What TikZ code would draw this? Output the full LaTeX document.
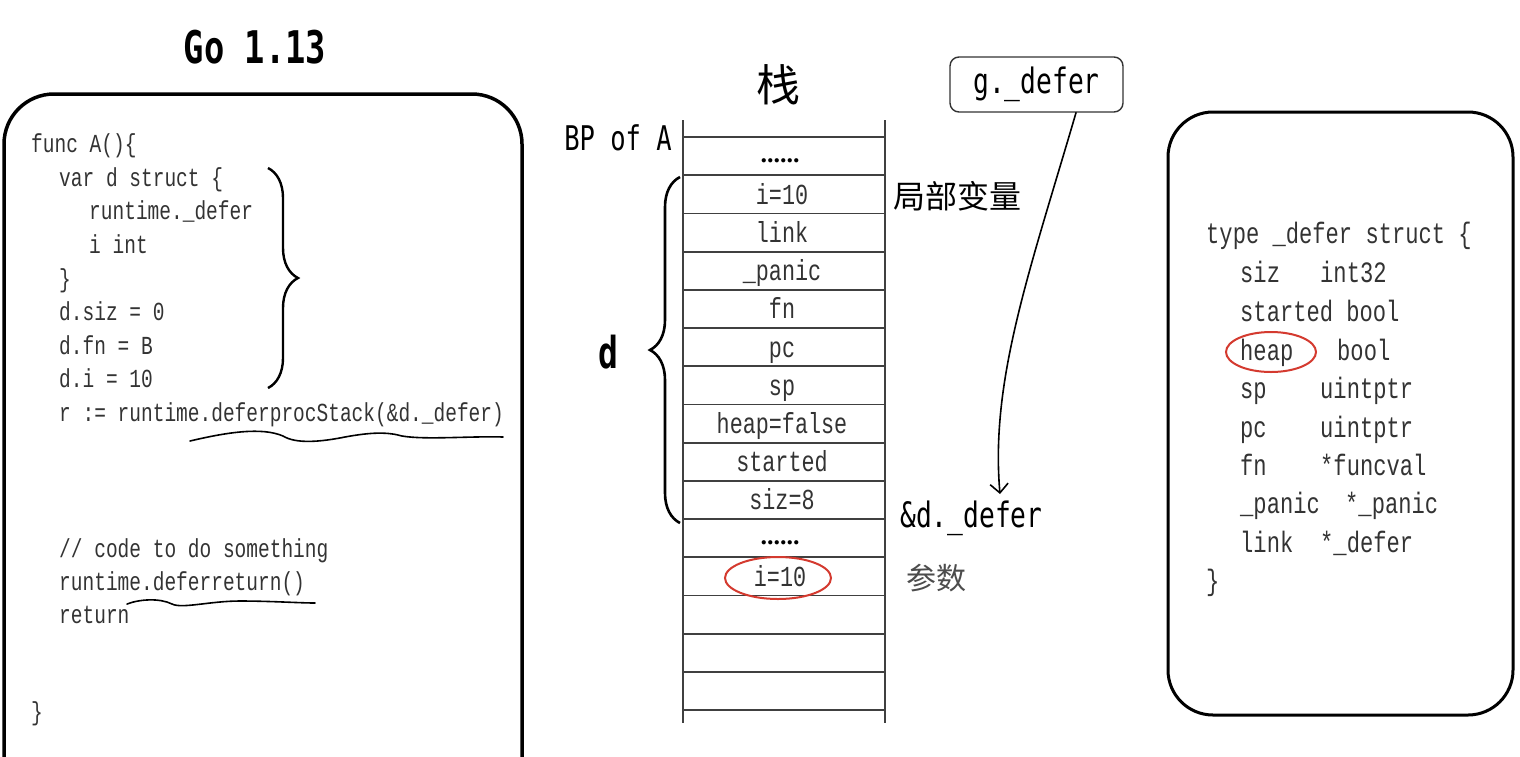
\documentclass[tikz,border=0pt]{standalone}
\usepackage{fontspec}
\setmainfont{Liberation Serif}
\newfontfamily\codefont[FakeStretch=0.75]{Liberation Mono}
\newfontfamily\handfont[FakeStretch=0.75]{DejaVu Sans Mono}
\newfontfamily\cjk{Noto Sans CJK SC}
\usetikzlibrary{decorations.pathreplacing,arrows.meta,shapes.geometric}
\definecolor{ink}{HTML}{333333}
\definecolor{circ}{HTML}{D43A2F}
\begin{document}
\begin{tikzpicture}[x=1pt,y=-1pt,
  codetxt/.style={anchor=base west,inner sep=0,text=ink,font=\codefont\fontsize{26}{30}\selectfont},
  structtxt/.style={anchor=base west,inner sep=0,text=ink,font=\codefont\fontsize{29.5}{34}\selectfont},
  cell/.style={anchor=base,inner sep=0,text=ink,font=\codefont\fontsize{29}{34}\selectfont},
  dotcell/.style={anchor=base,inner sep=0,text=black,font=\bfseries\fontsize{26}{30}\selectfont},
  handtxt/.style={inner sep=0,text=black,font=\handfont\fontsize{35}{40}\selectfont},
  cjktxt/.style={inner sep=0,text=black,font=\cjk\fontsize{32}{36}\selectfont},
  roundbox/.style={draw=black,line width=3.5pt},
  stackline/.style={draw=black!75,line width=1.8pt},
  redring/.style={draw=circ,line width=2pt},
  penline/.style={draw=black,line width=1.6pt,line cap=round,line join=round},
  bracepen/.style={draw=black,line width=2.6pt,decorate},
]
\useasboundingbox (0,0) rectangle (1520,756);
\fill[white] (0,0) rectangle (1520,756);

% ---------- left box ----------
\begin{scope}
\clip (0,0) rectangle (1520,756);
\draw[roundbox,rounded corners=50pt] (4,94) rectangle (522,820);
\end{scope}
\node[inner sep=0,font=\handfont\bfseries\fontsize{45}{50}\selectfont] (title) at (255,47) {Go 1.13};

\node[codetxt] (l1) at (31,152) {func A()\{};
\node[codetxt] (l2) at (59,186) {var d struct \{};
\node[codetxt] (l3) at (89,219) {runtime.\_defer};
\node[codetxt] (l4) at (89,253) {i int};
\node[codetxt] (l5) at (59,287) {\}};
\node[codetxt] (l6) at (59,320) {d.siz = 0};
\node[codetxt] (l7) at (59,354) {d.fn = B};
\node[codetxt] (l8) at (59,387) {d.i = 10};
\node[codetxt] (l9) at (59,421) {r := runtime.deferprocStack(\&d.\_defer)};
\node[codetxt] (l10) at (59,557) {// code to do something};
\node[codetxt] (l11) at (59,590) {runtime.deferreturn()};
\node[codetxt] (l12) at (59,623) {return};
\node[codetxt] (l13) at (31,720) {\}};

\draw[bracepen,line width=2.4pt,decoration={brace,amplitude=30pt,aspect=0.5}] (268,168) -- (268,388);

\draw[penline] (190,441) .. controls (228,432) and (262,427) .. (283,436)
  .. controls (296,444) and (320,442) .. (345,437)
  .. controls (372,432) and (388,432) .. (402,436)
  .. controls (425,440) and (470,436) .. (503,437);
\draw[penline] (127,604) .. controls (140,599) and (160,598) .. (172,604)
  .. controls (182,609) and (210,601) .. (240,601)
  .. controls (270,601) and (300,603) .. (315,603);

% ---------- stack ----------
\node[cjktxt,font=\cjk\fontsize{44}{48}\selectfont] (zhan) at (778,85) {栈};
\node[handtxt,font=\handfont\fontsize{34}{40}\selectfont] (bp) at (618,138) {BP of A};
\draw[stackline] (683,120) -- (683,723);
\draw[stackline] (885,120) -- (885,723);
\foreach \i in {0,...,15} {
  \draw[stackline] (683,137+38.2*\i) -- (885,137+38.2*\i);
}
\node[dotcell] (s0) at (780,137+38.2*0.5+6) {......};
\node[cell] (s1) at (782,137+38.2*1.5+10) {i=10};
\node[cell] (s2) at (782,137+38.2*2.5+10) {link};
\node[cell] (s3) at (782,137+38.2*3.5+10) {\_panic};
\node[cell] (s4) at (782,137+38.2*4.5+10) {fn};
\node[cell] (s5) at (782,137+38.2*5.5+10) {pc};
\node[cell] (s6) at (782,137+38.2*6.5+10) {sp};
\node[cell] (s7) at (782,137+38.2*7.5+10) {heap=false};
\node[cell] (s8) at (782,137+38.2*8.5+10) {started};
\node[cell] (s9) at (782,137+38.2*9.5+10) {siz=8};
\node[dotcell] (s10) at (780,137+38.2*10.5+6) {......};
\node[cell] (s11) at (780,137+38.2*11.5+10) {i=10};
\draw[redring] (778,578) ellipse (53 and 21);

\draw[bracepen,decoration={brace,amplitude=30pt,aspect=0.5}] (680,523) -- (680,177);
\node[inner sep=0,font=\handfont\bfseries\fontsize{44}{48}\selectfont] (dlab) at (608,352) {d};

\node[cjktxt] (jubu) at (957,196) {局部变量};
\node[handtxt,anchor=west] (addr) at (900,518) {\&d.\_defer};
\node[cjktxt,text=black!70,font=\cjk\fontsize{30}{34}\selectfont] (canshu) at (936,578) {参数};

% ---------- g._defer ----------
\node[draw=black!80,line width=1.4pt,rounded corners=9pt,minimum width=173pt,minimum height=55pt,
      handtxt] (gd) at (1036.5,84.5) {g.\_defer};
\coordinate (dd) at (1000,494);
\draw[penline,-{Straight Barb[length=9pt,width=18pt,line width=1.6pt]}]
  (gd.south -| 1076,0) .. controls (1030,270) and (990,380) .. (dd);

% ---------- right box ----------
\draw[roundbox,line width=3pt,rounded corners=45pt] (1168,112) rectangle (1513,715);
\node[structtxt] (r0) at (1206,243) {type \_defer struct \{};
\node[structtxt] (r1a) at (1240,282) {siz};
\node[structtxt] (r1b) at (1320,282) {int32};
\node[structtxt] (r2) at (1240,321) {started bool};
\node[structtxt] (r3a) at (1240,360) {heap};
\node[structtxt] (r3b) at (1337,360) {bool};
\node[structtxt] (r4a) at (1240,398) {sp};
\node[structtxt] (r4b) at (1320,398) {uintptr};
\node[structtxt] (r5a) at (1240,437) {pc};
\node[structtxt] (r5b) at (1320,437) {uintptr};
\node[structtxt] (r6a) at (1240,475) {fn};
\node[structtxt] (r6b) at (1320,475) {*funcval};
\node[structtxt] (r7a) at (1240,513) {\_panic};
\node[structtxt] (r7b) at (1345,513) {*\_panic};
\node[structtxt] (r8a) at (1240,552) {link};
\node[structtxt] (r8b) at (1320,552) {*\_defer};
\node[structtxt] (r9) at (1206,590) {\}};
\draw[redring] (1271,352) ellipse (45 and 20);
\end{tikzpicture}
\end{document}
